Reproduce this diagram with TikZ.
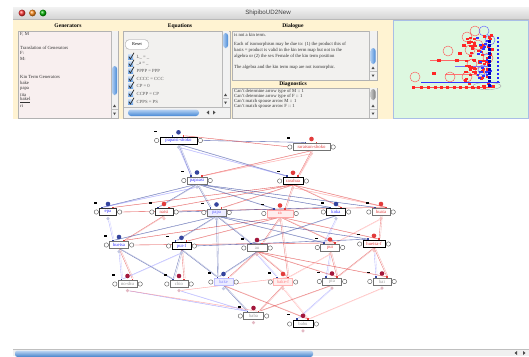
\documentclass[tikz,border=0pt]{standalone}
\usepackage{fontspec}
\setmainfont{Liberation Serif}
\newfontfamily\uifont{Liberation Sans}
\pgfdeclarelayer{chrome}
\pgfdeclarelayer{links}
\pgfsetlayers{chrome,links,main}

\definecolor{cream}{HTML}{FFF3D2}
\definecolor{panelgreen}{HTML}{DDF8E0}
\definecolor{greenedge}{HTML}{A9BEE6}
\definecolor{boxpink}{HTML}{F8EFEF}
\definecolor{boxgray}{HTML}{F2F1EF}
\definecolor{kblue}{HTML}{34449E}
\definecolor{kred}{HTML}{E23C3C}
\definecolor{kdark}{HTML}{A3173C}
\definecolor{aqua}{HTML}{4A8FE0}

% one kin-term position: label box, side ports, top dot, arrow tabs, mark and foot
\newcommand\kinnode[7]{%
  \node[kinbox,text=#5,#7] (#1) at (#2,#3) {#4};
  \node[kport,anchor=east] (#1-l) at ([xshift=-.6pt]#1.west) {};
  \node[kport,anchor=west] (#1-r) at ([xshift=.6pt]#1.east) {};
  \node[kdot,fill=#6] (#1-d) at ([yshift=4.4pt]#1.north) {};
  \node[ktab,fill=kblue] (#1-a) at ([xshift=-6pt,yshift=1pt]#1.north) {};
  \node[ktab,fill=kred] (#1-b) at ([xshift=5pt,yshift=1pt]#1.north) {};
  \node[keq] (#1-e) at ([xshift=-4pt,yshift=5.5pt]#1.north west) {};
  \node[kfoot,fill=#6!30] (#1-f) at ([yshift=-3pt]#1.south) {};
}
% a link is drawn as a pair of close strands
\newcommand\lk[3]{%
  \draw[#1] (#2) -- (#3);
  \draw[#1,opacity=.35,transform canvas={xshift=1.3pt}] (#2) -- (#3);
}

% vertical scroll bar: x, top, bottom, thumb top, thumb bottom, thumb colour
\newcommand\vscroll[6]{%
  \fill[gray!10] (#1,#2) rectangle (#1+7,#3);
  \draw[gray!55,line width=.3pt] (#1,#2) -- (#1,#3);
  \shade[left color=#6!45,right color=#6!95!black,rounded corners=3pt] (#1+1,#4) rectangle (#1+6.2,#5);
  \fill[black!70] (#1+2,#3-11) -- (#1+5,#3-11) -- (#1+3.5,#3-13.5) -- cycle;
  \fill[black!70] (#1+2,#3-5.5) -- (#1+5,#3-5.5) -- (#1+3.5,#3-3) -- cycle;
  \draw[gray!50,line width=.3pt] (#1,#3-9) -- (#1+7,#3-9);
}

\begin{document}
\begin{tikzpicture}[x=1pt,y=-1pt,
  ptext/.style={anchor=west,inner sep=0,font=\fontsize{4.7}{5}\selectfont,text=black!80},
  head/.style={inner sep=0,font=\bfseries\fontsize{5.6}{6}\selectfont},
  kinbox/.style={draw=black!55,line width=.4pt,fill=white,inner xsep=1.2pt,inner ysep=0pt,
    minimum height=6.8pt,font=\fontsize{4.7}{4.9}\selectfont},
  kbold/.style={draw=black,line width=.8pt},
  kport/.style={circle,draw=black!75,fill=white,line width=.35pt,inner sep=0,minimum size=4.4pt},
  kdot/.style={circle,inner sep=0,minimum size=4.6pt},
  ktab/.style={inner sep=0,minimum size=1.7pt},
  keq/.style={fill=black,inner sep=0,minimum width=3pt,minimum height=1.3pt},
  kfoot/.style={circle,inner sep=0,minimum size=3.4pt},
  be/.style={draw=kblue,opacity=.7,line width=.35pt},
  lb/.style={draw=blue!45,opacity=.65,line width=.35pt},
  re/.style={draw=kred,opacity=.7,line width=.35pt},
  lr/.style={draw=red!45,opacity=.65,line width=.35pt},
]
\useasboundingbox (0,0) rectangle (529,356);

\begin{pgfonlayer}{chrome}
  \fill[white] (0,0) rectangle (529,356);
  % title bar
  \shade[top color=gray!10,bottom color=gray!35] (13,7) rectangle (529,19.5);
  \draw[gray!55,line width=.3pt] (13,19.5) -- (529,19.5);
  \shade[ball color=red!80] (22,13) circle (3.4pt);
  \shade[ball color=orange!90] (32.5,13) circle (3.4pt);
  \shade[ball color=green!70!black] (43,13) circle (3.4pt);
  \node[font=\uifont\fontsize{6.2}{6.5}\selectfont,text=black!75,inner sep=0] (title) at (268,13) {ShipiboUD2New};

  % control strip
  \fill[cream] (13,19.5) rectangle (393,119);
  \fill[panelgreen] (393,19.5) rectangle (529,119);
  \draw[greenedge,line width=.8pt] (393.4,20) rectangle (528.6,118.6);

  % Generators
  \node[head] (genhead) at (68,25.5) {Generators};
  \draw[gray!60,fill=boxpink,line width=.3pt] (18,31) rectangle (118,118);
  \node[ptext] (g1) at (20,34) {F, M};
  \node[ptext] (g2) at (20,47.5) {Translation of Generators};
  \node[ptext] (g3) at (20,53) {F:};
  \node[ptext] (g4) at (20,58.5) {M:};
  \node[ptext] (g5) at (20,77) {Kin Term Generators};
  \node[ptext] (g6) at (20,83) {bake};
  \node[ptext] (g7) at (20,89) {papa};
  \node[ptext] (g8) at (20,94.5) {tita};
  \node[ptext] (g9) at (20,100) {\underline{bakel}};
  \node[ptext] (g10) at (20,105.5) {ri};
  \vscroll{111}{31}{118}{66}{95}{aqua}

  % Equations
  \node[head] (eqhead) at (180,26) {Equations};
  \draw[gray!60,fill=boxgray,line width=.3pt] (123,31) rectangle (230,118);
  \node[draw=gray!75,fill=white,rounded corners=3.5pt,line width=.4pt,minimum width=23pt,minimum height=9.5pt,
        inner sep=0,font=\fontsize{4.4}{4.6}\selectfont] (reset) at (137,44.5) {Reset};
  \foreach \yy/\eqn in {57/{L\_ = \_},64/{\_a = \_},71/{PPPP = PPP},79/{CCCC = CCC},86/{CP = 0},94/{CCPP = CP},102/{CPPS = PS}}{
    \shade[top color=aqua!30,bottom color=aqua!85] (128,\yy-2.6) rectangle (133.2,\yy+2.6);
    \draw[black!85,line width=.7pt] (128.8,\yy-.3) -- (130.4,\yy+1.9) -- (134,\yy-4.2);
    \node[ptext,text=black!65] at (136.5,\yy) {\eqn};
  }
  \vscroll{222}{31}{107}{33}{48}{aqua}
  \fill[gray!10] (123.5,107.5) rectangle (229.5,117.5);
  \draw[gray!55,line width=.3pt] (123.5,107.5) -- (229.5,107.5);
  \shade[top color=aqua!40,bottom color=aqua!95!black,rounded corners=3pt] (128,109.5) rectangle (199,116);
  \fill[black!70] (209,110.5) -- (209,114.5) -- (206.5,112.5) -- cycle;
  \fill[black!70] (213,110.5) -- (213,114.5) -- (215.5,112.5) -- cycle;

  % Dialogue
  \node[head] (dlghead) at (293,26) {Dialogue};
  \draw[gray!60,fill=boxgray,line width=.3pt] (232,31) rectangle (377,80);
  \node[ptext] (d1) at (234,35) {is not a kin term.};
  \node[ptext] (d2) at (234,44) {Each of isomorphism may be due to: (1) the product  this of};
  \node[ptext] (d3) at (234,50) {basis = product is valid in the kin term map but not in the};
  \node[ptext] (d4) at (234,56) {algebra or (2) the sex Female of the kin term position};
  \node[ptext] (d5) at (234,67) {The algebra and the kin term map are not isomorphic.};
  \vscroll{369.5}{31}{80}{48}{64}{aqua}

  % Diagnostics
  \node[head] (diahead) at (293,84) {Diagnostics};
  \draw[gray!60,fill=boxgray,line width=.3pt] (232,88) rectangle (377,118);
  \node[ptext] (x1) at (234,91) {Can't determine arrow type of M :: 1};
  \node[ptext] (x2) at (234,96) {Can't determine arrow type of F :: 1};
  \node[ptext] (x3) at (234,101) {Can't match spouse arrow M :: 1};
  \node[ptext] (x4) at (234,106) {Can't match spouse arrow F :: 1};
  \vscroll{369.5}{88}{118}{89}{100}{gray}

  % overview of the whole graph
  \draw[gray!70,line width=.4pt] (487,86) ellipse (14pt and 3.6pt);
  \draw[red!70,line width=.9pt] (412,87) -- (492,87);
  \draw[red!60,line width=.4pt] (430,60) -- (470,60);
  \draw[red!55,line width=.4pt] (445,74) -- (480,74);
  \draw[blue!55,line width=.4pt] (455,66) -- (488,66);
  \foreach \cx/\cy in {415/77,450/77,467/77,448/51,467/37,475/31,470/50,472/64,478/45,488/58,480/72}
    \draw[red!65,line width=.45pt] (\cx,\cy) circle (5pt);
  \foreach \cx/\cy in {484/31,486/50,483/70,490/40}
    \draw[blue!60,line width=.45pt] (\cx,\cy) circle (5pt);
  \pgfmathsetseed{11}
  \foreach \i in {1,...,70}{
    \pgfmathsetmacro\cx{464+28*rnd}
    \pgfmathsetmacro\cy{34+54*rnd}
    \fill[red!85] (\cx,\cy) rectangle (\cx+3.2,\cy+2.2);
  }
  \foreach \i in {1,...,25}{
    \pgfmathsetmacro\cx{476+16*rnd}
    \pgfmathsetmacro\cy{36+50*rnd}
    \fill[blue!80] (\cx,\cy) rectangle (\cx+2.6,\cy+2);
  }
  \foreach \yy in {37,41,...,81}
    \fill[blue!85] (496.5,\yy) rectangle (498.5,\yy+2.3);
  \foreach \yy in {40,44,...,84}
    \fill[blue!75!black] (488,\yy) rectangle (491,\yy+2.5);
  \draw[blue!80,line width=1pt] (421,82) -- (500,82);
  \foreach \cx in {412,420,427,434,440,446,453,459,465,471,477,483}
    \fill[red!85] (\cx,86) rectangle (\cx+3,88.5);
  \foreach \cx/\cy in {437/58.5,455/58.5,432/72,462/44,458/52}
    \fill[red!85] (\cx,\cy) rectangle (\cx+4,\cy+3);

  % bottom scroll bar
  \fill[gray!12] (13,349.5) rectangle (529,356);
  \draw[gray!50,line width=.3pt] (13,349.5) -- (529,349.5);
  \shade[top color=aqua!35,bottom color=aqua!90!black,rounded corners=2.5pt] (15,350.5) rectangle (313,357);
  \fill[black!70] (517,351) -- (517,355) -- (514.5,353) -- cycle;
  \fill[black!70] (523,351) -- (523,355) -- (525.5,353) -- cycle;
\end{pgfonlayer}

% ---- kin term map ----
\kinnode{pss}{178.5}{140.5}{papaisi-shoko}{blue!80}{kblue}{kbold,minimum width=37pt}
\kinnode{rs}{311.5}{147}{raraisun-shoko}{kred}{kred}{minimum width=37pt}
\kinnode{pa}{197}{180.5}{papaasi}{blue!80}{kblue}{minimum width=20pt}
\kinnode{rh}{293}{181}{rarahua}{kred}{kred}{kbold,minimum width=20pt}
\kinnode{epa}{108}{212}{epa}{blue!80}{kblue}{draw=black!80,minimum width=17pt}
\kinnode{nat}{164}{212}{natsi}{kred}{kred}{draw=black!80,minimum width=18pt}
\kinnode{papa}{216.5}{212.5}{papa}{blue!60}{kblue}{fill=blue!7,minimum width=19pt}
\kinnode{ra}{280}{213.5}{ra}{red!65}{kred}{fill=red!7,draw=red!35,minimum width=26pt}
\kinnode{koka}{336}{212}{koka}{blue!80}{kblue}{draw=black!90,minimum width=19pt}
\kinnode{hua}{381}{212}{huata}{kred}{kred}{minimum width=18pt}
\kinnode{hue}{119}{245}{huetsa}{blue!80}{kblue}{minimum width=19pt}
\kinnode{puif}{181.5}{246}{pui-f}{blue!80}{kblue}{kbold,minimum width=19pt}
\kinnode{au}{257}{248}{au}{black!40}{kdark}{minimum width=20pt}
\kinnode{pui}{330}{247.5}{pui}{kred}{kred}{minimum width=19pt}
\kinnode{huef}{374}{244}{huetsa-f}{kred}{kred}{kbold,minimum width=22pt}
\kinnode{nosh}{127.5}{284}{no-shu}{black!45}{kdark}{minimum width=19pt}
\kinnode{chio}{179}{284}{chio}{black!40}{kdark}{minimum width=18pt}
\kinnode{bake}{223.5}{282}{bake}{blue!45}{kblue}{fill=blue!7,draw=blue!25,minimum width=19pt}
\kinnode{bakf}{283}{282}{bake-f}{red!50}{kred}{fill=red!6,draw=red!30,minimum width=19pt}
\kinnode{pia}{332}{281.5}{pia}{black!40}{kdark}{minimum width=19pt}
\kinnode{bai}{382}{281.5}{bai}{black!40}{kdark}{minimum width=18pt}
\kinnode{baba}{253.5}{316}{baba}{black!40}{kdark}{minimum width=20pt}
\kinnode{babu}{303}{324}{babu}{black!40}{kdark}{kbold,minimum width=20pt}

\begin{pgfonlayer}{links}
  % top generation
  \lk{be}{pss-r}{rs-a}
  \lk{re}{rs-l}{pss-b}
  \lk{be}{pss.south}{pa-a}
  \lk{lb}{pss-f}{pa-a}
  \lk{be}{pss.south}{rh-a}
  \lk{lb}{pss-f}{rh-a}
  \lk{re}{rs.south}{pa-b}
  \lk{lr}{rs-f}{pa-b}
  \lk{re}{rs.south}{rh-b}
  \lk{lr}{rs-f}{rh-b}
  % second generation to third
  \foreach \t in {epa,nat,papa,ra,koka,hua}{
    \lk{be}{pa.south}{\t-a}
    \lk{re}{rh.south}{\t-b}
  }
  \lk{lb}{pa-f}{epa-a}
  \lk{lr}{rh-f}{hua-b}
  \lk{re}{epa-r}{hua-b}
  \lk{be}{nat-r}{koka-a}
  % third to fourth
  \lk{lb}{epa-f}{hue-a}
  \lk{re}{nat.south}{hue-b}
  \foreach \t in {hue,puif,au,pui,huef}{
    \lk{be}{papa.south}{\t-a}
    \lk{re}{ra.south}{\t-b}
  }
  \lk{be}{koka.south}{au-a}
  \lk{lb}{koka-f}{pui-a}
  \lk{re}{hua.south}{huef-b}
  \lk{lr}{hua-f}{pui-b}
  \lk{be}{papa.south}{bake-a}
  \lk{re}{ra.south}{bakf-b}
  % fourth to fifth
  \lk{lb}{hue-f}{nosh-a}
  \lk{be}{hue.south}{chio-a}
  \lk{re}{hue.south}{nosh-b}
  \lk{be}{puif.south}{chio-a}
  \lk{lb}{puif-f}{nosh-a}
  \lk{re}{puif.south}{chio-b}
  \lk{be}{puif.south}{bake-a}
  \foreach \t in {bake,bakf,pia,bai}{
    \lk{re}{au.south}{\t-b}
  }
  \lk{be}{au.south}{bake-a}
  \lk{lb}{au-f}{bakf-a}
  \lk{re}{pui.south}{pia-b}
  \lk{lr}{pui-f}{bakf-b}
  \lk{re}{huef.south}{pia-b}
  \lk{re}{huef.south}{bai-b}
  \lk{lb}{huef-f}{bai-a}
  \lk{lb}{pui-f}{pia-a}
  \lk{re}{hue-r}{pui-b}
  \lk{be}{puif-r}{huef-a}
  % fifth to sixth
  \lk{be}{bake.south}{baba-a}
  \lk{re}{bake.south}{babu-b}
  \lk{re}{bakf.south}{baba-b}
  \lk{lr}{bakf-f}{babu-b}
  \lk{lb}{pia-f}{babu-a}
  \lk{lr}{bai-f}{babu-b}
  \lk{lb}{nosh-f}{baba-a}
  \lk{lr}{nosh-f}{baba-b}
  \lk{lb}{chio-f}{baba-a}
  \lk{re}{pia.south}{baba-b}
  \lk{lr}{chio-f}{bakf-b}
\end{pgfonlayer}
\end{tikzpicture}
\end{document}
